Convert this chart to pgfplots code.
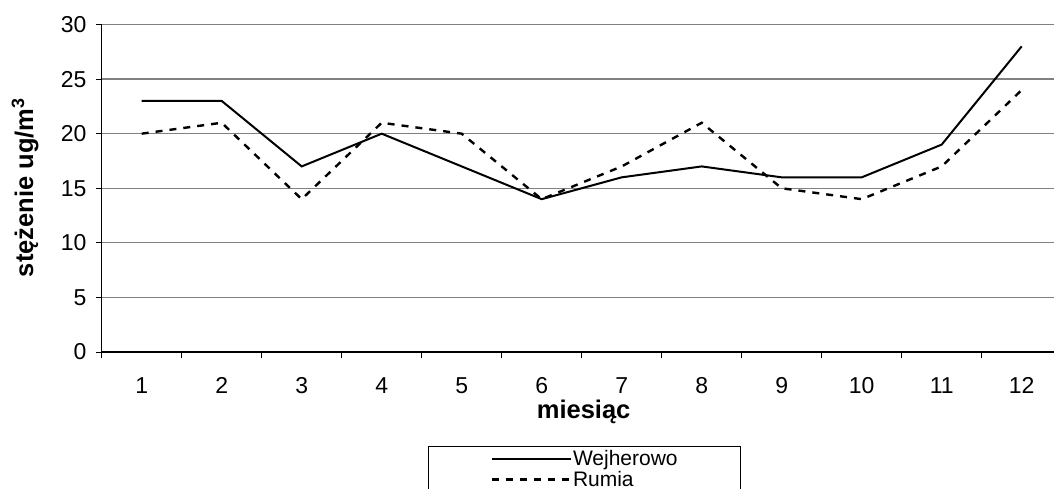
\documentclass[border=0pt]{standalone}
\usepackage{fontspec}
\setmainfont{Liberation Sans}
\usepackage{pgfplots}
\pgfplotsset{compat=1.18}
\definecolor{gridgray}{RGB}{128,128,128}
\begin{document}
\begin{tikzpicture}
\useasboundingbox (0,0) rectangle (1054pt,488pt);
\clip (0,0) rectangle (1054pt,488pt);
\begin{axis}[
  at={(101.7pt,136pt)}, anchor=south west,
  scale only axis, width=960pt, height=327.5pt,
  xmin=0.5, xmax=12.5, ymin=0, ymax=30,
  axis x line*=bottom, axis y line*=left,
  x axis line style={-, line width=1.2pt},
  y axis line style={-, line width=1.2pt},
  xtick={0.5,1.5,...,12.5},
  xticklabels={1,2,3,4,5,6,7,8,9,10,11,12},
  x tick label as interval,
  ytick={0,5,...,30},
  tick align=outside, major tick length=6pt,
  tick style={black, line width=1pt},
  ymajorgrids, major grid style={gridgray, line width=1.2pt},
  /pgf/number format/assume math mode=true,
  ticklabel style={font=\fontsize{23}{26}\selectfont, inner sep=0pt},
  xticklabel style={anchor=north, yshift=-19pt},
  yticklabel style={anchor=east, xshift=-9pt},
  xlabel={\textbf{miesiąc}},
  ylabel={\textbf{stężenie ug/m\textsuperscript{3}}},
  label style={font=\fontsize{25.5}{28}\selectfont},
  xlabel style={at={(axis description cs:0.502,-0.183)}, anchor=center},
  ylabel style={at={(axis description cs:-0.0799,0.502)}, anchor=center},
  legend style={at={(axis description cs:0.34,-0.287)}, anchor=north west,
    draw=black, line width=1pt, fill=white, inner xsep=62pt, inner ysep=3pt,
    font=\fontsize{21}{23}\selectfont, row sep=2pt,
    nodes={inner sep=1pt, anchor=west}},
  legend cell align=left,
  legend image code/.code={\draw[#1] (0pt,0pt) -- (79pt,0pt);},
]
\addplot[black, line width=2pt] coordinates {
  (1,23) (2,23) (3,17) (4,20) (5,17) (6,14) (7,16) (8,17) (9,16) (10,16) (11,19) (12,28)};
\addlegendentry{Wejherowo}
\addplot[black, line width=2.4pt, dash pattern=on 7pt off 7pt] coordinates {
  (1,20) (2,21) (3,14) (4,21) (5,20) (6,14) (7,17) (8,21) (9,15) (10,14) (11,17) (12,24)};
\addlegendentry{Rumia}
\end{axis}
\end{tikzpicture}
\end{document}
